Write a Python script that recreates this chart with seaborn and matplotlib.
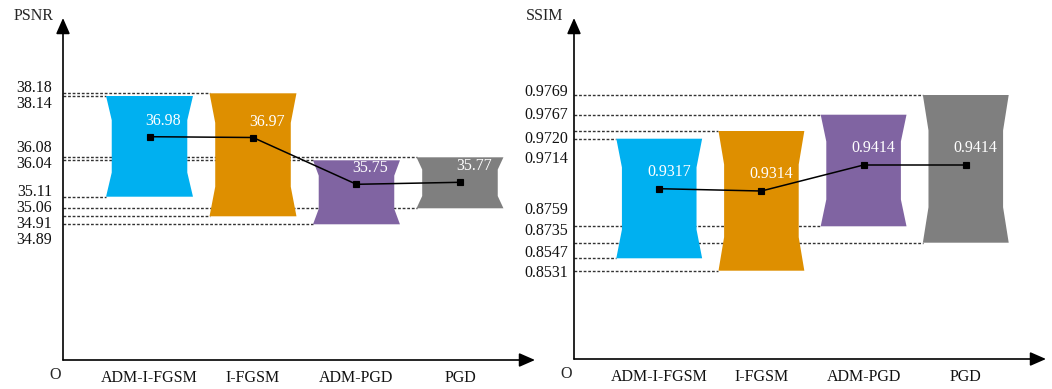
import numpy as np
import pandas as pd
import seaborn as sns
import matplotlib.pyplot as plt

# data
methods = ['ADM-I-FGSM', 'I-FGSM', 'ADM-PGD', 'PGD']
colors = ['#00B0F0', '#DE8F00', '#8064A2', '#7F7F7F']

psnr_mean = [36.98, 36.97, 35.75, 35.77]
psnr_high = [38.14, 38.18, 36.04, 36.08]
psnr_low = [35.11, 34.91, 34.89, 35.06]

ssim_mean = [0.9317, 0.9314, 0.9414, 0.9414]
ssim_high = [0.9714, 0.9720, 0.9767, 0.9769]
ssim_low = [0.8547, 0.8531, 0.8759, 0.8735]

# the y axes are not to scale: every value sits at a hand-picked height (px above the x axis)
psnr_edge_px = [135.7, 143.7, 151.7, 163.3, 199.7, 202.7, 264.0, 266.7]   # sorted edges
psnr_mean_px = [223.3, 222.5, 175.7, 177.7]
ssim_edge_px = [88.3, 100.7, 116.3, 132.7, 220.3, 228.0, 244.3, 264.0]
ssim_mean_px = [170.3, 168.0, 194.0, 194.0]
# vertical nudge of each edge label (px, up positive), ascending order of value
psnr_label_dy = [-15.7, -7.7, 0, 4.4, -3.7, 9.3, -8.3, 5]
ssim_label_dy = [-2.6, 5, 12, 16.3, -20.6, -8.3, 0, 3]

sns.set_theme(style='white')
plt.rcParams['font.family'] = ['Liberation Serif', 'DejaVu Serif']
FS = 11.5

fig = plt.figure(figsize=(10.52, 3.89), dpi=100)
ax1 = fig.add_axes([63 / 1052, 29 / 389, 472 / 1052, 342 / 389])
ax2 = fig.add_axes([574 / 1052, 30 / 389, 472 / 1052, 341 / 389])


def schematic_scale(values, heights, top_val, top_px):
    kv, idx = np.unique(np.r_[0.0, values, top_val], return_index=True)
    kh = np.r_[0.0, heights, top_px][idx]
    return (lambda v: np.interp(v, kv, kh)), (lambda h: np.interp(h, kh, kv))


def draw_panel(ax, title, mean, high, low, edge_px, mean_px, label_dy, top_val, top_px,
               xlim, fmt, lab_dx, val_off):
    edges = sorted(high + low)
    fwd, inv = schematic_scale(edges + mean, edge_px + mean_px, top_val, top_px)
    ax.set_yscale('function', functions=(fwd, inv))
    ax.set_ylim(0, top_val)

    w, d = 0.42, 0.055
    for i, (lo, hi, c) in enumerate(zip(low, high, colors)):
        h_lo, h_hi = fwd(lo), fwd(hi)
        span = h_hi - h_lo
        y1 = inv(h_hi - 0.24 * span)
        y2 = inv(h_lo + 0.24 * span)
        xs = [i - w, i + w, i + w - d, i + w - d, i + w, i - w, i - w + d, i - w + d]
        ys = [hi, hi, y1, y2, lo, lo, y2, y1]
        ax.fill(xs, ys, color=c, lw=0, zorder=1)
        for v in (hi, lo):
            ax.hlines(v, xlim[0], i - w, colors='#333333', lw=1.0,
                      linestyles=(0, (2, 1.3)), zorder=0.5)

    df = pd.DataFrame({'method': methods, 'value': mean})
    sns.pointplot(data=df, x='method', y='value', color='black', markers='s',
                  markersize=4.5, linewidth=1.1, errorbar=None, ax=ax, zorder=3)
    for i, v in enumerate(mean):
        ax.annotate(fmt.format(v), (i, v), xytext=val_off, textcoords='offset pixels',
                    ha='center', va='center', color='white', fontsize=FS, zorder=4)

    # edge values written beside the y axis
    for v, dy in zip(edges, label_dy):
        ax.annotate(fmt.format(v), (0, v), xycoords=('axes fraction', 'data'),
                    xytext=(-lab_dx, dy), textcoords='offset pixels',
                    ha='right', va='center', fontsize=FS, color='#111111')

    ax.set_xlim(*xlim)
    ax.set_yticks([])
    ax.set_xlabel('')
    ax.set_ylabel('')
    ax.tick_params(axis='x', length=0, pad=7, labelsize=FS, labelcolor='#111111')
    for s in ax.spines.values():
        s.set_visible(False)

    arrow = dict(arrowstyle='-|>,head_length=0.8,head_width=0.35', mutation_scale=12,
                 lw=1.2, color='black', shrinkA=0, shrinkB=0)
    ax.annotate('', xy=(1, 0), xytext=(0, 0), xycoords='axes fraction', arrowprops=arrow)
    ax.annotate('', xy=(0, 1), xytext=(0, 0), xycoords='axes fraction', arrowprops=arrow)
    ax.annotate(title, (0, 1), xycoords='axes fraction', xytext=(-29, 2),
                textcoords='offset pixels', ha='center', va='center', fontsize=FS)
    ax.annotate('O', (0, 0), xycoords='axes fraction', xytext=(-8, -15),
                textcoords='offset pixels', ha='center', va='center', fontsize=FS)


draw_panel(ax1, 'PSNR', psnr_mean, psnr_high, psnr_low, psnr_edge_px, psnr_mean_px,
           psnr_label_dy, 40.0, 342, (-0.836, 3.725), '{:.2f}', 11, (14, 16))
draw_panel(ax2, 'SSIM', ssim_mean, ssim_high, ssim_low, ssim_edge_px, ssim_mean_px,
           ssim_label_dy, 1.0, 341, (-0.834, 3.785), '{:.4f}', 6, (10, 17))

fig.savefig('out.png', dpi=100, facecolor='white')
